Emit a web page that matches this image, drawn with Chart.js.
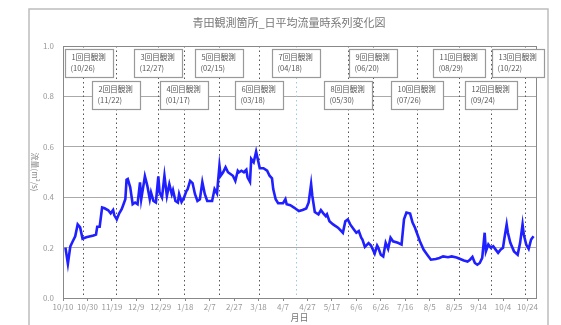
<!DOCTYPE html>
<html>
<head>
<meta charset="utf-8">
<script src="https://cdn.jsdelivr.net/npm/chart.js@4/dist/chart.umd.min.js"></script>
<style>
  html, body { margin: 0; padding: 0; background: #fff; }
  #wrap { width: 561px; height: 325px; }
</style>
</head>
<body>
<div id="wrap"><canvas id="c"></canvas></div>
<script>
// days counted from 2019/10/10, daily mean flow (m3/s)
const days = [2, 4, 6, 8, 10, 12, 14, 16, 19, 25, 27, 28, 30, 32, 34, 37, 39, 41, 42, 44,
    46, 48, 49, 51, 52, 53, 55, 57, 59, 61, 63, 64, 66, 67, 69, 71, 72, 74, 76, 78,
    79, 81, 83, 84, 85, 87, 89, 90, 92, 94, 95, 97, 99, 101, 102, 104, 106, 108, 110, 112,
    114, 116, 118, 122, 124, 126, 128, 129, 131, 133, 135, 137, 139, 141, 143, 144, 146, 148, 150, 151,
    153, 154, 156, 158, 159, 161, 164, 167, 169, 171, 172, 174, 176, 180, 182, 183, 186, 189, 193, 196,
    199, 201, 203, 204, 206, 209, 211, 213, 215, 216, 218, 221, 225, 229, 231, 233, 235, 238, 240, 242,
    244, 245, 247, 250, 252, 255, 257, 258, 260, 262, 264, 266, 268, 270, 274, 277, 279, 281, 284, 286,
    288, 290, 292, 295, 298, 301, 305, 308, 311, 315, 318, 322, 325, 328, 331, 333, 335, 337, 339, 341,
    343, 345, 346, 348, 350, 352, 354, 356, 358, 360, 361, 363, 364, 366, 369, 372, 374, 376, 377, 379,
    381, 383, 385];
const flow = [0.200, 0.136, 0.205, 0.225, 0.245, 0.292, 0.280, 0.235, 0.241, 0.248, 0.252, 0.283, 0.283, 0.359, 0.356, 0.348, 0.336, 0.349, 0.328, 0.312,
    0.336, 0.352, 0.365, 0.392, 0.469, 0.472, 0.439, 0.372, 0.379, 0.372, 0.459, 0.392, 0.452, 0.483, 0.445, 0.392, 0.419, 0.385, 0.379, 0.483,
    0.419, 0.399, 0.485, 0.445, 0.405, 0.452, 0.412, 0.428, 0.385, 0.379, 0.412, 0.381, 0.398, 0.425, 0.432, 0.465, 0.456, 0.412, 0.385, 0.392,
    0.460, 0.413, 0.385, 0.385, 0.432, 0.415, 0.525, 0.485, 0.499, 0.519, 0.499, 0.492, 0.485, 0.465, 0.505, 0.499, 0.505, 0.499, 0.509, 0.479,
    0.461, 0.552, 0.539, 0.581, 0.559, 0.515, 0.515, 0.505, 0.485, 0.475, 0.432, 0.392, 0.376, 0.376, 0.392, 0.372, 0.368, 0.359, 0.345, 0.349,
    0.355, 0.379, 0.452, 0.405, 0.341, 0.332, 0.349, 0.336, 0.325, 0.332, 0.305, 0.292, 0.279, 0.259, 0.305, 0.312, 0.292, 0.272, 0.259, 0.266,
    0.239, 0.232, 0.203, 0.218, 0.208, 0.176, 0.208, 0.199, 0.172, 0.165, 0.219, 0.195, 0.239, 0.225, 0.219, 0.212, 0.312, 0.339, 0.335, 0.299,
    0.279, 0.252, 0.225, 0.192, 0.172, 0.152, 0.155, 0.159, 0.165, 0.162, 0.165, 0.161, 0.155, 0.149, 0.145, 0.152, 0.163, 0.139, 0.132, 0.139,
    0.159, 0.259, 0.185, 0.212, 0.199, 0.205, 0.192, 0.179, 0.192, 0.199, 0.232, 0.292, 0.259, 0.219, 0.185, 0.172, 0.219, 0.292, 0.252, 0.212,
    0.195, 0.232, 0.245];

const tickLabels = ["10/10", "10/30", "11/19", "12/9", "12/29", "1/18", "2/7", "2/27", "3/18", "4/7",
    "4/27", "5/17", "6/6", "6/26", "7/16", "8/5", "8/25", "9/14", "10/4", "10/24"];

// observation dates (day number from 10/10) and their labels
const measDays = [16, 43, 78, 99, 128, 160, 191, 233, 254, 290, 324, 350, 378];
const measDates = ["10/26", "11/22", "12/27", "01/17", "02/15", "03/18", "04/18",
    "05/30", "06/20", "07/26", "08/29", "09/24", "10/22"];

const FONT = "'Noto Sans CJK JP', 'Noto Sans', sans-serif";

const decor = {
    id: "decor",
    beforeDraw(chart) {
        const ctx = chart.ctx;
        const a = chart.chartArea;
        ctx.save();
        ctx.fillStyle = "#fff";
        ctx.fillRect(0, 0, chart.width, chart.height);
        ctx.strokeStyle = "#bdbdbd";
        ctx.lineWidth = 1.5;
        ctx.strokeRect(29, 9, 519, 330);
        ctx.fillStyle = "#777";
        ctx.textAlign = "center";
        ctx.textBaseline = "middle";
        ctx.font = "11px " + FONT;
        ctx.fillText("青田観測箇所_日平均流量時系列変化図", 289, 23);
        ctx.font = "9px " + FONT;
        ctx.fillText("月日", (a.left + a.right) / 2, 318);
        ctx.translate(35, (a.top + a.bottom) / 2);
        ctx.rotate(Math.PI / 2);
        ctx.fillStyle = "#888";
        ctx.font = "8px " + FONT;
        ctx.fillText("流量(m³/s)", 0, 0);
        ctx.restore();
    },
    beforeDatasetsDraw(chart) {
        const ctx = chart.ctx;
        const a = chart.chartArea;
        const x = chart.scales.x;
        ctx.save();
        ctx.lineWidth = 1;
        ctx.setLineDash([1.5, 3]);
        measDays.forEach((d, i) => {
            const px = Math.round(x.getPixelForValue(d)) + 0.5;
            ctx.strokeStyle = i === 6 ? "#9cc8e0" : "#555";
            ctx.beginPath();
            ctx.moveTo(px, a.top);
            ctx.lineTo(px, a.bottom);
            ctx.stroke();
        });
        ctx.restore();
    },
    afterDatasetsDraw(chart) {
        const ctx = chart.ctx;
        const a = chart.chartArea;
        const x = chart.scales.x;
        ctx.save();
        ctx.strokeStyle = "#888";
        ctx.lineWidth = 1;
        ctx.strokeRect(a.left + 0.5, a.top + 0.5, a.right - a.left, a.bottom - a.top);
        ctx.font = "7.5px " + FONT;
        ctx.textBaseline = "middle";
        ctx.textAlign = "left";
        measDays.forEach((d, i) => {
            const line1 = (i + 1) + "回目観測";
            const line2 = "(" + measDates[i] + ")";
            const w = Math.round(ctx.measureText(line1).width + 14);
            const h = 28;
            let left = x.getPixelForValue(d) - w / 2;
            left = Math.max(left, a.left + 2);
            left = Math.min(left, a.right + 8 - w);
            left = Math.round(left) + 0.5;
            const top = (i % 2 === 0 ? a.top + 3 : a.top + 35) + 0.5;
            ctx.fillStyle = "#fff";
            ctx.fillRect(left, top, w, h);
            ctx.strokeStyle = "#999";
            ctx.lineWidth = 1.2;
            ctx.strokeRect(left, top, w, h);
            ctx.fillStyle = "#555";
            ctx.fillText(line1, left + 6, top + 8);
            ctx.fillText(line2, left + 5, top + 19);
        });
        ctx.restore();
    }
};

new Chart(document.getElementById("c"), {
    type: "line",
    data: {
        datasets: [{
            data: days.map((d, i) => ({ x: d, y: flow[i] })),
            borderColor: "#1f1fff",
            borderWidth: 2.6,
            pointRadius: 0,
            tension: 0,
            fill: false
        }]
    },
    options: {
        responsive: true,
        maintainAspectRatio: false,
        animation: false,
        devicePixelRatio: 1,
        layout: { padding: { left: 0, top: 46, right: 25, bottom: 0 } },
        plugins: {
            legend: { display: false },
            tooltip: { enabled: false },
            title: { display: false }
        },
        scales: {
            x: {
                type: "linear",
                min: 0,
                max: 387,
                afterFit(s) { s.height = 27; },
                afterBuildTicks(s) {
                    s.ticks = tickLabels.map((t, i) => ({ value: i * 20 }));
                },
                border: { display: false },
                grid: { drawOnChartArea: false, tickLength: 3, color: "#888" },
                ticks: {
                    autoSkip: false,
                    maxRotation: 0,
                    padding: 1,
                    color: "#999",
                    font: { family: FONT, size: 8 },
                    callback: (v, i) => tickLabels[i]
                }
            },
            y: {
                min: 0,
                max: 1,
                afterFit(s) { s.width = 63; },
                border: { display: false },
                grid: { color: "#aaa", drawTicks: false },
                ticks: {
                    stepSize: 0.2,
                    padding: 9,
                    color: "#999",
                    font: { family: FONT, size: 8 },
                    callback: v => v.toFixed(1)
                }
            }
        }
    },
    plugins: [decor]
});
</script>
</body>
</html>
